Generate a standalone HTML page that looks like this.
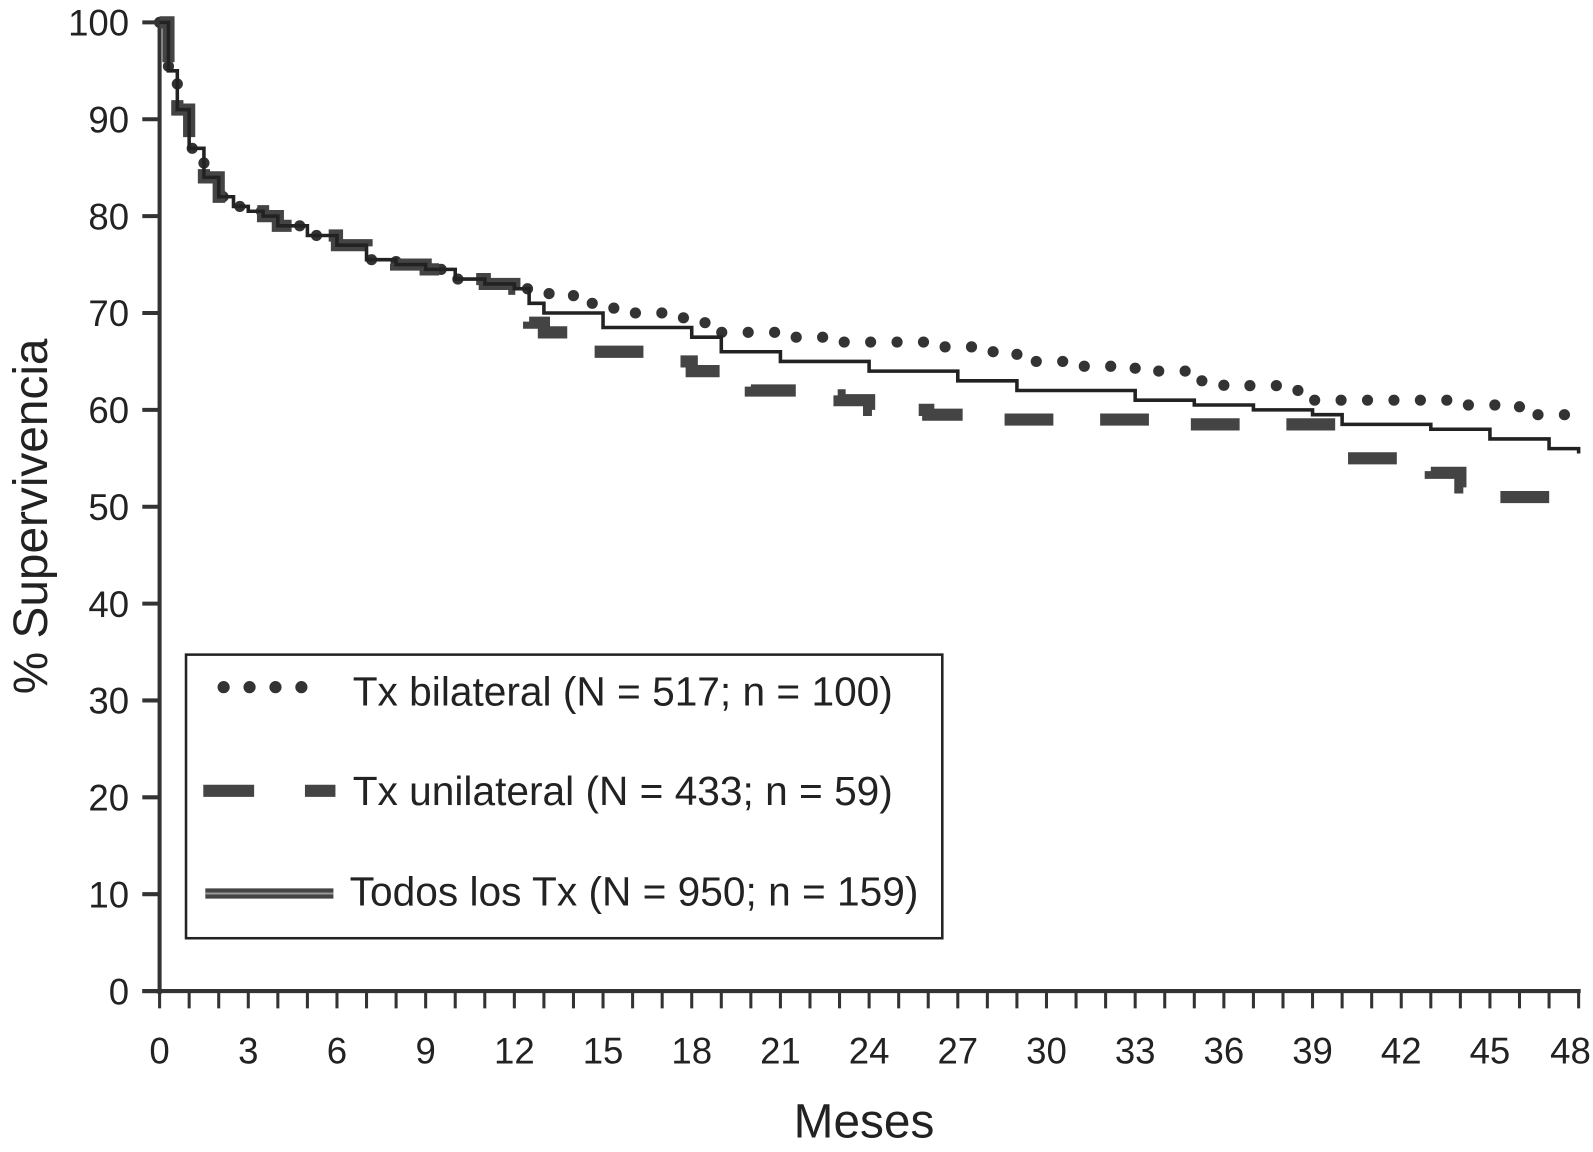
<!DOCTYPE html>
<html><head><meta charset="utf-8"><style>
body{margin:0;background:#fff;}
svg text{font-family:"Liberation Sans",sans-serif;fill:#222;}
</style></head><body>
<svg id="chart" width="1593" height="1147" viewBox="0 0 1593 1147" xmlns="http://www.w3.org/2000/svg">
<g transform="scale(1.0165)">
<g id="axes"></g><g id="series"></g>
<g>
<rect x="183" y="644" width="744" height="279" fill="#fff" stroke="#222" stroke-width="2.5"/>
<line x1="220" y1="676" x2="322" y2="676" stroke="#333" stroke-width="12" stroke-linecap="round" stroke-dasharray="0 25.5"/>
<text x="347" y="694" font-size="40">Tx bilateral (N = 517; n = 100)</text>
<line x1="200" y1="778" x2="330" y2="778" stroke="#444" stroke-width="12" stroke-dasharray="50 50"/>
<text x="347" y="792" font-size="40">Tx unilateral (N = 433; n = 59)</text>
<line x1="202" y1="879" x2="328" y2="879" stroke="#444" stroke-width="10"/>
<line x1="202" y1="879" x2="328" y2="879" stroke="#999" stroke-width="2"/>
<text x="344" y="891" font-size="40">Todos los Tx (N = 950; n = 159)</text>
</g>
</g>
</svg>
<script>
const xTicks=[0,3,6,9,12,15,18,21,24,27,30,33,36,39,42,45,48];
const yTicks=[0,10,20,30,40,50,60,70,80,90,100];
const earlyMonths=[0,0.3,0.6,1,1.5,2,2.5,3,3.5,4,5,6,7,8,9,10,11,12];
const earlyValues=[100,95,91,87,84,82,81,80.5,80,79,78,77,75.5,75,74.5,73.5,73,72.5];
const bilMonths=[13,14,15,16,17,18,19,21,23,26,28,29,31,33,35,36,38,39,44,46,48];
const bilValues=[72,71,70.5,70,69.5,69,68,67.5,67,66.5,66,65,64.5,64,63,62.5,62,61,60.5,59.5,59];
const uniMonths=[12.5,13,14,16,17,18,19,20,22,23,24,26,28,30,34,38,40,42,43,44,45,48];
const uniValues=[69,68,66,66,65,64,63,62,61.5,61,60,59.5,59,59,58.5,58.5,55,54.5,53.5,52,51,51];
const allMonths=[12.5,13,15,18,19,21,24,27,29,32,33,35,37,39,40,43,45,47,48];
const allValues=[71,70,68.5,67.5,66,65,64,63,62,62,61,60.5,60,59.5,58.5,58,57,56,55.5];
const X=m=>157+m*1396/48, Y=v=>975-v*9.53;
const NS="http://www.w3.org/2000/svg";
const ax=document.getElementById('axes'), se=document.getElementById('series');
function mk(p,tag,attrs){const e=document.createElementNS(NS,tag);for(const k in attrs)e.setAttribute(k,attrs[k]);p.appendChild(e);return e;}
let l=mk(ax,'line',{x1:157,y1:18,x2:157,y2:978,stroke:'#333','stroke-width':4});


l=mk(ax,'line',{x1:140,y1:975,x2:1555,y2:975,stroke:'#333','stroke-width':4});


yTicks.forEach(v=>{const t=mk(ax,'line',{x1:140,y1:Y(v),x2:157,y2:Y(v),stroke:'#333','stroke-width':4});


const tx=mk(ax,'text',{x:127,y:Y(v)+13,'font-size':36,'text-anchor':'end'});tx.textContent=v;

});
for(let m=0;m<=48;m++){const t=mk(ax,'line',{x1:X(m),y1:975,x2:X(m),y2:992,stroke:'#333','stroke-width':3});

}
xTicks.forEach((m,i)=>{const last=i===xTicks.length-1;
const tx=mk(ax,'text',{x:last?X(m)+12:X(m),y:1046,'font-size':36,'text-anchor':last?'end':'middle'});tx.textContent=m;

});
let tt=mk(ax,'text',{x:850,y:1119,'font-size':47,'text-anchor':'middle'});tt.textContent='Meses';


tt=mk(ax,'text',{x:0,y:0,'font-size':47,'text-anchor':'middle',transform:'translate(46,508) rotate(-90)'});tt.textContent='% Supervivencia';


function stepPath(ms,vs){let d='M'+X(ms[0])+' '+Y(vs[0]);for(let i=1;i<ms.length;i++){d+=' L'+X(ms[i])+' '+Y(vs[i-1])+' L'+X(ms[i])+' '+Y(vs[i]);}return d;}
const bm=earlyMonths.concat(bilMonths), bv=earlyValues.concat(bilValues);
const um=earlyMonths.concat(uniMonths), uv=earlyValues.concat(uniValues);
const am=earlyMonths.concat(allMonths), av=earlyValues.concat(allValues);
let p=mk(se,'path',{d:stepPath(bm,bv),fill:'none',stroke:'#333','stroke-width':11,'stroke-linecap':'round','stroke-dasharray':'0 26'});


p=mk(se,'path',{d:stepPath(um,uv),fill:'none',stroke:'#444','stroke-width':12,'stroke-dasharray':'48 46'});


p=mk(se,'path',{d:stepPath(am,av),fill:'none',stroke:'#222','stroke-width':3.5});


</script>
</body></html>
